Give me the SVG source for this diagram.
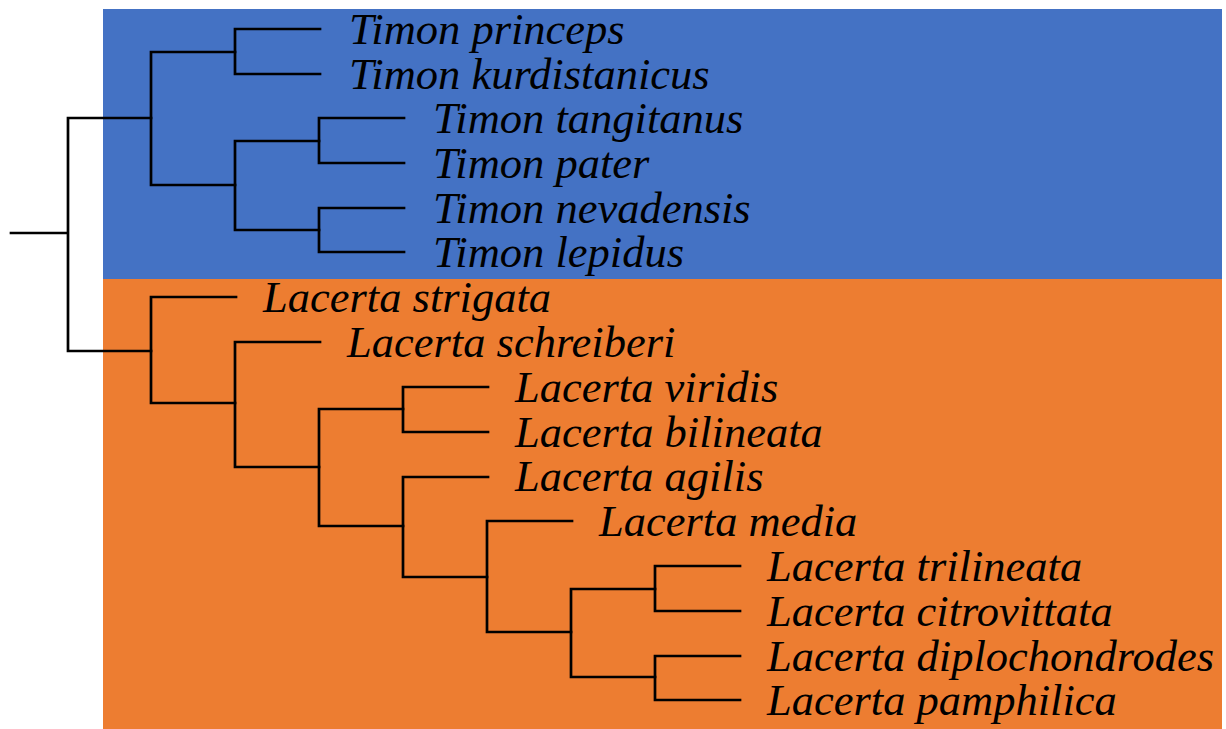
<svg xmlns="http://www.w3.org/2000/svg" width="1226" height="729" viewBox="0 0 1226 729">
<style>
.br{fill:none;stroke:#000;stroke-width:2.7;stroke-linecap:square}
.lb{font-family:"Liberation Serif","Times New Roman",serif;font-style:italic;font-size:44.5px;fill:#000}
</style>
<rect width="1226" height="729" fill="#fff"/>
<rect id="timon-bg" x="103" y="9" width="1119" height="270" fill="#4472C4"/>
<rect id="lacerta-bg" x="103" y="279" width="1119" height="450" fill="#ED7D31"/>
<g id="connectors" class="br">
<path d="M11 233H68M68 118V351M68 118H151M68 351H151"/>
<path d="M151 52V185M151 52H235M151 185H235"/>
<path d="M235 29V74M235 29H320M235 74H320"/>
<path d="M235 141V230M235 141H319M235 230H319"/>
<path d="M319 118V163M319 118H404M319 163H404"/>
<path d="M319 208V252M319 208H404M319 252H404"/>
<path d="M151 297V403M151 297H236M151 403H235"/>
<path d="M235 342V467M235 342H320M235 467H319"/>
<path d="M319 409V526M319 409H403M319 526H403"/>
<path d="M403 387V432M403 387H488M403 432H488"/>
<path d="M403 477V577M403 477H488M403 577H487"/>
<path d="M487 521V632M487 521H572M487 632H571"/>
<path d="M571 589V677M571 589H655M571 677H655"/>
<path d="M655 566V611M655 566H740M655 611H740"/>
<path d="M655 656V700M655 656H740M655 700H740"/>
</g>
<g id="n1"><text class="lb" x="349" y="44">Timon princeps</text></g>
<g id="n2"><text class="lb" x="349" y="89">Timon kurdistanicus</text></g>
<g id="n3"><text class="lb" x="433" y="133">Timon tangitanus</text></g>
<g id="n4"><text class="lb" x="433" y="178">Timon pater</text></g>
<g id="n5"><text class="lb" x="433" y="223">Timon nevadensis</text></g>
<g id="n6"><text class="lb" x="433" y="267">Timon lepidus</text></g>
<g id="n7"><text class="lb" x="263" y="312">Lacerta strigata</text></g>
<g id="n8"><text class="lb" x="347" y="357">Lacerta schreiberi</text></g>
<g id="n9"><text class="lb" x="515" y="402">Lacerta viridis</text></g>
<g id="n10"><text class="lb" x="515" y="447">Lacerta bilineata</text></g>
<g id="n11"><text class="lb" x="515" y="491">Lacerta agilis</text></g>
<g id="n12"><text class="lb" x="599" y="536">Lacerta media</text></g>
<g id="n13"><text class="lb" x="767" y="581">Lacerta trilineata</text></g>
<g id="n14"><text class="lb" x="767" y="626">Lacerta citrovittata</text></g>
<g id="n15"><text class="lb" x="767" y="671">Lacerta diplochondrodes</text></g>
<g id="n16"><text class="lb" x="767" y="715">Lacerta pamphilica</text></g>
</svg>
